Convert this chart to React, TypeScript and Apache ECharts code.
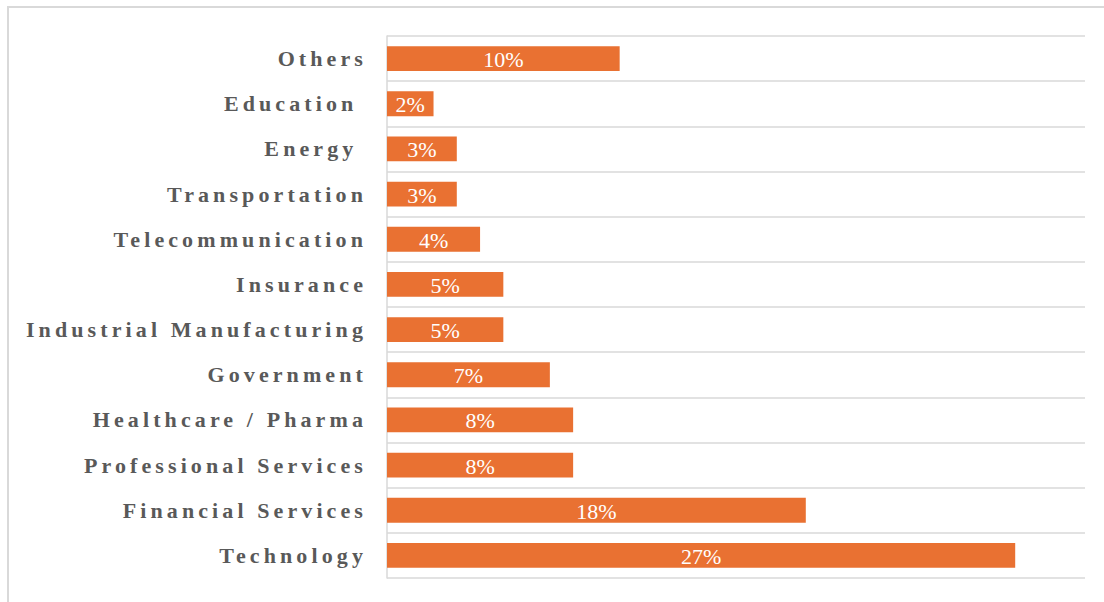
import React, { useEffect, useRef } from "react";
import * as echarts from "echarts";

const categories = [
  "Technology",
  "Financial Services",
  "Professional Services",
  "Healthcare / Pharma",
  "Government",
  "Industrial Manufacturing",
  "Insurance",
  "Telecommunication",
  "Transportation",
  "Energy\u00a0",
  "Education\u00a0",
  "Others",
];
const values = [27, 18, 8, 8, 7, 5, 5, 4, 3, 3, 2, 10];

const LABEL_COLOR = "#595959";
const FONT = "'Liberation Serif', 'Times New Roman', serif";

export default function App() {
  const ref = useRef<HTMLDivElement>(null);
  useEffect(() => {
    if (!ref.current) return;
    const chart = echarts.init(ref.current, null, { renderer: "svg" });
    chart.setOption({
      animation: false,
      grid: { left: 387, right: 19, top: 36, bottom: 24, containLabel: false },
      xAxis: {
        type: "value",
        min: 0,
        max: 30,
        show: false,
        splitLine: { show: false },
      },
      yAxis: {
        type: "category",
        data: categories,
        axisLine: { show: true, lineStyle: { color: "#d9d9d9", width: 1.5 } },
        axisTick: { show: false },
        splitLine: { show: true, lineStyle: { color: "#d9d9d9", width: 1.5 } },
        axisLabel: {
          color: LABEL_COLOR,
          fontFamily: FONT,
          fontWeight: "bold",
          fontSize: 22,
          margin: 20,
        },
      },
      series: [
        {
          type: "bar",
          data: values,
          barCategoryGap: "45%",
          itemStyle: { color: "#E97132" },
          label: {
            show: true,
            position: "inside",
            color: "#ffffff",
            fontFamily: FONT,
            fontSize: 22,
            offset: [0, 1],
            formatter: "{c}%",
          },
        },
      ],
    });
    return () => chart.dispose();
  }, []);
  return (
    <>
      <style>{`
        #chartbox text[fill="${LABEL_COLOR}"], #chartbox text[style*="font-weight:bold"], #chartbox text[style*="bold"] { letter-spacing: 4.1px; }
      `}</style>
      <div
        style={{
          position: "absolute",
          left: 7,
          top: 6,
          width: 1300,
          height: 800,
          border: "2px solid #d9d9d9",
          boxSizing: "border-box",
        }}
      />
      <div
        id="chartbox"
        ref={ref}
        style={{ position: "absolute", left: 0, top: 0, width: 1104, height: 602 }}
      />
    </>
  );
}
